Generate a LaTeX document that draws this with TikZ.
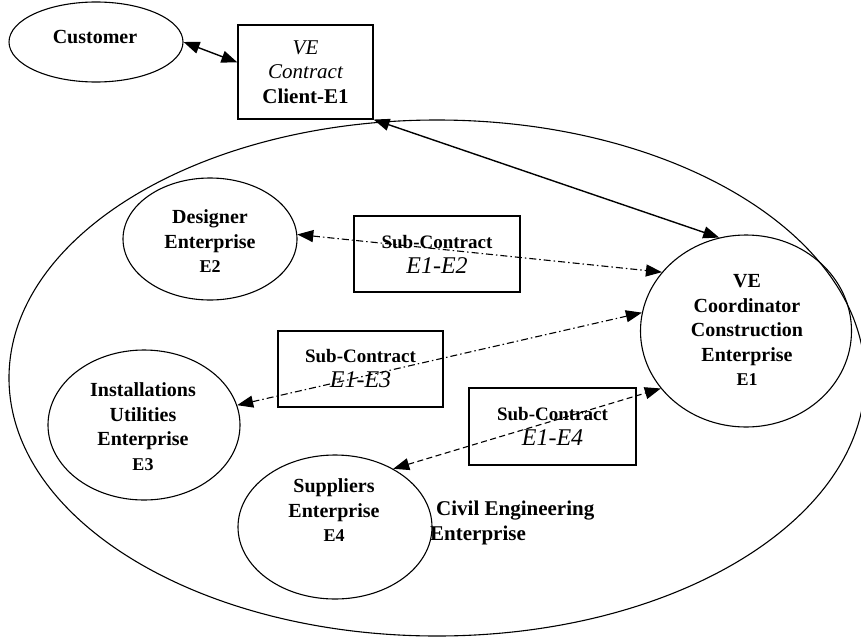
\documentclass[tikz,border=0pt]{standalone}
\usepackage{fontspec}
\setmainfont{Liberation Serif}
\usetikzlibrary{shapes.geometric,arrows.meta,calc}
\newcommand{\elabelfont}{\fontsize{18}{24.5}\selectfont}
\begin{document}
\begin{tikzpicture}[x=1pt,y=-1pt,
  ell/.style={ellipse,draw,line width=1.1pt,inner sep=0pt},
  box/.style={rectangle,draw,line width=1.1pt,inner sep=0pt,align=center},
  txt/.style={align=center,inner sep=0pt,font=\fontsize{20}{24.5}\selectfont\bfseries},
  link/.style={{Triangle[length=16pt,width=12pt]}-{Triangle[length=16pt,width=12pt]}},
  solidlink/.style={link,line width=1.4pt},
  dashdotlink/.style={link,line width=1.1pt,dash pattern=on 7pt off 3pt on 1.5pt off 3pt},
  dashlink/.style={link,line width=1.1pt,dash pattern=on 6pt off 3.5pt}
]
\useasboundingbox (0,0) rectangle (861,637);

% big enterprise ellipse
\node[ell,minimum width=856,minimum height=516] (big) at (437,378) {};

% customer
\node[ell,minimum width=174,minimum height=80] (cust) at (96,42) {};
\node[txt] (custtxt) at (95,37) {Customer};

% VE contract box
\node[box,minimum width=135,minimum height=94,font=\fontsize{21}{24.5}\selectfont] (vebox) at (305.5,72)
  {\itshape VE\\\itshape Contract\\\bfseries Client-E1};

% enterprises
\node[ell,minimum width=174,minimum height=122] (e2) at (210,239) {};
\node[txt] (e2txt) at (210,241.5) {Designer\\Enterprise\\{\elabelfont E2}};

\node[ell,minimum width=211,minimum height=192] (e1) at (746,331) {};
\node[txt] (e1txt) at (747,330) {VE\\Coordinator\\Construction\\Enterprise\\{\elabelfont E1}};

\node[ell,minimum width=192,minimum height=150] (e3) at (144,425) {};
\node[txt] (e3txt) at (143,426.5) {Installations\\Utilities\\Enterprise\\{\elabelfont E3}};

\node[ell,minimum width=194,minimum height=144] (e4) at (335,527) {};
\node[txt] (e4txt) at (334,510.5) {Suppliers\\Enterprise\\{\elabelfont E4}};

\node[anchor=north west,align=left,inner sep=0pt,font=\fontsize{21}{25}\selectfont\bfseries] (civil) at (430,501)
  {\hspace*{6pt}Civil Engineering\\Enterprise};

% sub-contract boxes
\node[box,minimum width=166,minimum height=76,font=\fontsize{19}{25}\selectfont] (sc2) at (437,254)
  {\bfseries Sub-Contract\\{\fontsize{24}{25}\selectfont\itshape E1-E2}};
\node[box,minimum width=165,minimum height=76,font=\fontsize{19}{25}\selectfont] (sc3) at (360.5,369)
  {\bfseries Sub-Contract\\{\fontsize{24}{25}\selectfont\itshape E1-E3}};
\node[box,minimum width=167,minimum height=77,font=\fontsize{19}{25}\selectfont] (sc4) at (552.5,426.5)
  {\bfseries Sub-Contract\\{\fontsize{24}{25}\selectfont\itshape E1-E4}};

% connectors
\draw[solidlink] (cust.east) -- (vebox.172);
\draw[solidlink] (vebox.south east) -- (e1.106);
\draw[dashdotlink] (e2.3) -- (e1.145);
\draw[dashdotlink] (e3.12) -- (e1.170);
\draw[dashlink] (e4.45) -- (e1.214);
\end{tikzpicture}
\end{document}
